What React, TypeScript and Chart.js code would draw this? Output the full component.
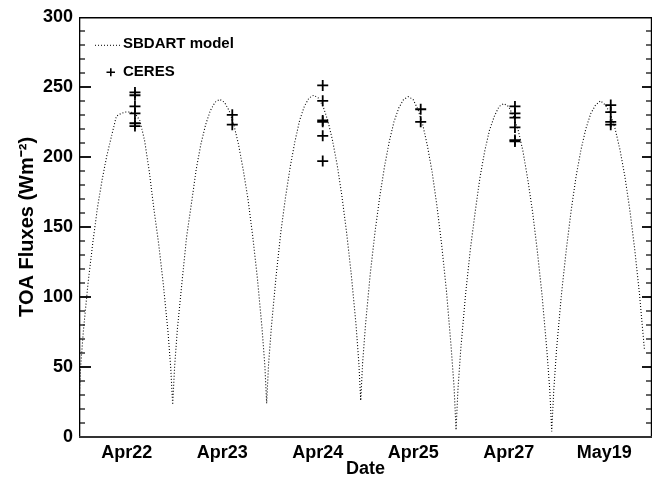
import { useEffect, useRef } from "react";
import { Chart, registerables } from "chart.js";

Chart.register(...registerables);

// Day labels sit at the middle of each day slot on the time axis (days since start).
const dayLabels = ["Apr22", "Apr23", "Apr24", "Apr25", "Apr27", "May19"];
const dayCenters = [0.5, 1.5, 2.5, 3.5, 4.5, 5.5];

// SBDART modelled TOA flux, time in days from the start of the record.
const modelTime = [
  0.0, 0.017, 0.046, 0.095, 0.145, 0.194, 0.243, 0.292, 0.341, 0.391, 0.44, 0.489,
  0.538, 0.587, 0.637, 0.686, 0.735, 0.784, 0.834, 0.883, 0.932, 0.961, 0.981,
  1.001, 1.03, 1.082, 1.127, 1.182, 1.227, 1.276, 1.326, 1.375, 1.424, 1.473,
  1.523, 1.572, 1.621, 1.67, 1.719, 1.769, 1.818, 1.867, 1.916, 1.946, 1.965,
  1.985, 2.015, 2.064, 2.113, 2.162, 2.212, 2.261, 2.31, 2.359, 2.408, 2.458,
  2.507, 2.556, 2.605, 2.654, 2.704, 2.753, 2.802, 2.851, 2.901, 2.93, 2.95,
  2.97, 3.0, 3.049, 3.099, 3.15, 3.199, 3.249, 3.298, 3.349, 3.399, 3.449,
  3.498, 3.549, 3.599, 3.648, 3.698, 3.748, 3.798, 3.848, 3.897, 3.928, 3.948,
  3.968, 3.998, 4.048, 4.098, 4.149, 4.198, 4.248, 4.298, 4.349, 4.399, 4.449,
  4.498, 4.549, 4.599, 4.649, 4.699, 4.749, 4.799, 4.849, 4.899, 4.93, 4.95,
  4.971, 5.001, 5.052, 5.103, 5.154, 5.205, 5.256, 5.307, 5.359, 5.409, 5.461,
  5.512, 5.563, 5.614, 5.665, 5.716, 5.768, 5.819, 5.869, 5.92,
];
const modelFlux = [
  24, 50, 76, 110, 139, 164, 184, 201, 215, 229, 231, 232,
  232, 231, 226, 212, 190, 163, 138, 109, 75, 49, 23,
  50, 77, 113, 143, 169, 191, 209, 223, 233, 239, 241,
  239, 233, 223, 209, 191, 170, 144, 114, 78, 51, 24,
  52, 79, 115, 146, 171, 193, 211, 226, 236, 242, 244,
  242, 236, 226, 212, 194, 172, 146, 116, 80, 53, 26,
  53, 80, 116, 146, 172, 193, 211, 225, 235, 241, 243,
  241, 234, 223, 208, 189, 165, 137, 104, 64, 35, 5,
  34, 63, 102, 134, 161, 185, 204, 219, 229, 236, 238,
  236, 229, 219, 204, 184, 161, 133, 101, 62, 33, 4,
  33, 63, 102, 134, 162, 186, 205, 220, 231, 237, 240,
  237, 231, 220, 205, 186, 162, 134, 102, 63,
];

// CERES overpass retrievals.
const ceresTime = [
  0.586, 0.586, 0.586, 0.586, 0.586, 0.586,
  1.605, 1.605,
  2.552, 2.552, 2.552, 2.552, 2.552, 2.552,
  3.578, 3.578,
  4.565, 4.565, 4.565, 4.565, 4.565, 4.565,
  5.568, 5.568, 5.568, 5.568,
];
const ceresFlux = [
  246, 244, 236, 231, 224, 222,
  230, 223,
  251, 240, 226, 225, 215, 197,
  234, 225,
  236, 231, 228, 221, 212, 211,
  237, 232, 225, 223,
];

const FONT = "'Liberation Sans', Arial, Helvetica, sans-serif";
const yMinorTicks = [10, 20, 30, 40, 60, 70, 80, 90, 110, 120, 130, 140, 160, 170, 180, 190, 210, 220, 230, 240, 260, 270, 280, 290];
const yMajorTicks = [50, 100, 150, 200, 250];

// Closed frame with inward ticks on both vertical sides.
const framePlugin = {
  id: "frameTicks",
  afterDraw(chart: any) {
    const ctx = chart.ctx;
    const a = chart.chartArea;
    const ys = chart.scales.y;
    const left = Math.round(a.left);
    const right = Math.round(a.right);
    const top = Math.round(a.top);
    const bottom = Math.round(a.bottom);
    ctx.save();
    ctx.fillStyle = "#000";
    yMinorTicks.forEach((v) => {
      const py = Math.round(ys.getPixelForValue(v));
      ctx.fillRect(left, py - 0.6, 6, 1.2);
      ctx.fillRect(right - 6, py - 0.6, 6, 1.2);
    });
    yMajorTicks.forEach((v) => {
      const py = Math.round(ys.getPixelForValue(v));
      ctx.fillRect(left, py - 0.9, 12, 1.8);
      ctx.fillRect(right - 10, py - 0.9, 10, 1.8);
    });
    // frame: top, left, right, then a heavier bottom axis
    ctx.fillRect(left, top, right - left, 1.5);
    ctx.fillRect(left, top, 1.3, bottom - top);
    ctx.fillRect(right - 1.2, top, 1.2, bottom - top);
    ctx.fillStyle = "#333";
    ctx.fillRect(left, bottom - 1, right - left, 2);
    ctx.restore();
  },
};

// Legend in the upper-left corner of the plot.
const legendPlugin = {
  id: "innerLegend",
  afterDraw(chart: any) {
    const { ctx, chartArea: a } = chart;
    const x0 = a.left;
    const y0 = a.top;
    ctx.save();
    ctx.strokeStyle = "#000";
    ctx.fillStyle = "#000";
    ctx.lineWidth = 1;
    ctx.setLineDash([1, 2]);
    ctx.beginPath();
    ctx.moveTo(x0 + 16, y0 + 28.5);
    ctx.lineTo(x0 + 43, y0 + 28.5);
    ctx.stroke();
    ctx.setLineDash([]);
    ctx.lineWidth = 1.6;
    ctx.beginPath();
    ctx.moveTo(x0 + 27.5, y0 + 55.5);
    ctx.lineTo(x0 + 36, y0 + 55.5);
    ctx.moveTo(x0 + 31.8, y0 + 51.5);
    ctx.lineTo(x0 + 31.8, y0 + 59.5);
    ctx.stroke();
    ctx.font = `bold 15px ${FONT}`;
    ctx.textBaseline = "middle";
    ctx.textAlign = "left";
    ctx.fillText("SBDART model", x0 + 44, y0 + 27.5);
    ctx.fillText("CERES", x0 + 44, y0 + 55.5);
    ctx.restore();
  },
};

export default function App() {
  const canvasRef = useRef<HTMLCanvasElement | null>(null);

  useEffect(() => {
    document.body.style.margin = "0";
    const canvas = canvasRef.current;
    if (!canvas) return;

    const chart = new Chart(canvas, {
      type: "line",
      data: {
        datasets: [
          {
            label: "SBDART model",
            data: modelTime.map((t, i) => ({ x: t, y: modelFlux[i] })),
            borderColor: "#000",
            borderWidth: 1.1,
            borderDash: [1, 2],
            pointRadius: 0,
            tension: 0,
            fill: false,
          },
          {
            label: "CERES",
            data: ceresTime.map((t, i) => ({ x: t, y: ceresFlux[i] })),
            showLine: false,
            pointStyle: "cross",
            pointRadius: 5.5,
            borderColor: "#000",
            borderWidth: 1.8,
          },
        ],
      },
      options: {
        animation: false,
        responsive: false,
        maintainAspectRatio: false,
        devicePixelRatio: 1,
        layout: { autoPadding: false, padding: { top: 14, right: 1, left: 0, bottom: 0 } },
        plugins: { legend: { display: false }, tooltip: { enabled: false } },
        scales: {
          x: {
            type: "linear",
            min: 0,
            max: 6,
            grid: { display: false, drawTicks: false },
            border: { display: false },
            afterBuildTicks: (axis: any) => {
              axis.ticks = dayCenters.map((v) => ({ value: v }));
            },
            afterFit: (s: any) => {
              s.height = 46;
            },
            ticks: {
              autoSkip: false,
              maxRotation: 0,
              padding: 5,
              color: "#000",
              font: { family: FONT, size: 18, weight: "bold" },
              callback: (_v: any, i: number) => dayLabels[i],
            },
            title: {
              display: true,
              text: "Date",
              color: "#000",
              padding: { top: 0, bottom: 3 },
              font: { family: FONT, size: 18, weight: "bold" },
            },
          },
          y: {
            min: 0,
            max: 300,
            grid: { display: false, drawTicks: false },
            border: { display: false },
            afterFit: (s: any) => {
              s.width = 79;
            },
            ticks: {
              stepSize: 50,
              padding: 6,
              color: "#000",
              font: { family: FONT, size: 18, weight: "bold" },
            },
            title: {
              display: true,
              text: "TOA Fluxes (Wm\u207B\u00B2)",
              color: "#000",
              padding: { top: 15, bottom: 0 },
              font: { family: FONT, size: 20, weight: "bold" },
            },
          },
        },
      },
      plugins: [framePlugin, legendPlugin],
    });

    return () => chart.destroy();
  }, []);

  return (
    <canvas
      ref={canvasRef}
      width={653}
      height={483}
      style={{ display: "block", width: 653, height: 483 }}
    />
  );
}
